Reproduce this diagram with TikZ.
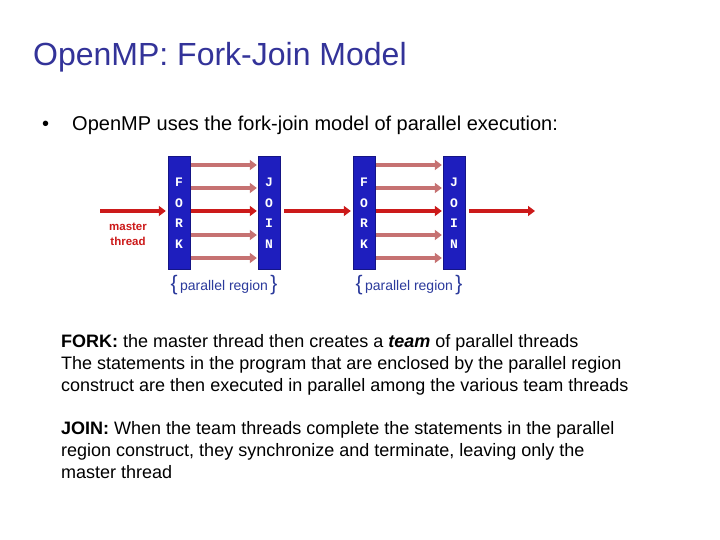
\documentclass[tikz,border=0pt]{standalone}
\usepackage{fontspec}
\setmainfont{Liberation Sans}
\setmonofont{Liberation Mono}
\usetikzlibrary{arrows.meta,positioning,calc}
\definecolor{ompnavy}{HTML}{333399}
\definecolor{ompbar}{HTML}{1E1EBE}
\definecolor{ompred}{HTML}{CC1A1A}
\definecolor{omppink}{HTML}{C67272}
\definecolor{ompbrace}{HTML}{2B3A9C}
\tikzset{
  bar/.style={draw=ompbar!70!black, fill=ompbar, minimum width=22, minimum height=113, inner sep=0pt, align=center, text=white, font=\fontsize{13}{20.5}\selectfont\ttfamily\bfseries},
  thr/.style={-{Triangle[length=7pt, width=10pt]}, line width=4pt, color=omppink},
  mst/.style={thr, color=ompred},
  lbl/.style={font=\fontsize{11.5}{15}\selectfont\bfseries, color=ompred, align=center},
  reg/.style={font=\fontsize{14}{16}\selectfont, color=ompbrace},
  txt/.style={anchor=base west, align=left, inner sep=0pt, font=\fontsize{18}{22}\selectfont},
}
\begin{document}
\begin{tikzpicture}[x=1pt, y=-1pt]
  \useasboundingbox[fill=white] (0,0) rectangle (720,540);
  \node[anchor=base west, inner sep=0pt, font=\fontsize{32}{36}\selectfont, color=ompnavy] (title) at (33,66) {OpenMP: Fork-Join Model};
  \node[anchor=base west, inner sep=0pt, font=\fontsize{20}{24}\selectfont] (bullet) at (42,131) {\textbullet};
  \node[anchor=base west, inner sep=0pt, font=\fontsize{20}{24}\selectfont] (intro) at (72,131) {OpenMP uses the fork-join model of parallel execution:};

  % fork / join bars
  \node[bar] (fork1) at (179,213) {F\\O\\R\\K};
  \node[bar] (join1) at (269,213) {J\\O\\I\\N};
  \node[bar] (fork2) at (364,213) {F\\O\\R\\K};
  \node[bar] (join2) at (454,213) {J\\O\\I\\N};
  \coordinate (mstart) at (100,211);
  \coordinate (mend) at (535,211);

  % master thread
  \draw[mst, shorten >=2pt] (mstart) -- ([yshift=2]fork1.west);
  \draw[mst, shorten <=4pt, shorten >=2pt] ([yshift=2]join1.east) -- ([yshift=2]fork2.west);
  \draw[mst, shorten <=4pt] ([yshift=2]join2.east) -- (mend);
  \node[lbl] (mthread) at (128,234) {master\\thread};

  % team threads
  \foreach \f/\j in {fork1/join1, fork2/join2} {
    \foreach \dy/\col in {48/omppink, 25/omppink, 2/ompred, -22/omppink, -45/omppink}
      \draw[thr, color=\col, shorten <=1pt, shorten >=1pt] ([yshift=\dy]\f.east) -- ([yshift=\dy]\j.west);
    \node[reg, anchor=north, inner sep=0pt] (region-\f) at ([yshift=-5]$(\f.south)!0.5!(\j.south)$) {{\fontsize{21}{21}\selectfont\{}\,parallel region\,{\fontsize{21}{21}\selectfont\}}};
  }

  \node[txt] (forktxt) at (61,391) {\textbf{FORK:} the master thread then creates a \textbf{\textit{team}} of parallel threads\\The statements in the program that are enclosed by the parallel region\\construct are then executed in parallel among the various team threads};
  \node[txt] (jointxt) at (61,478) {\textbf{JOIN:} When the team threads complete the statements in the parallel\\region construct, they synchronize and terminate, leaving only the\\master thread};
\end{tikzpicture}
\end{document}
